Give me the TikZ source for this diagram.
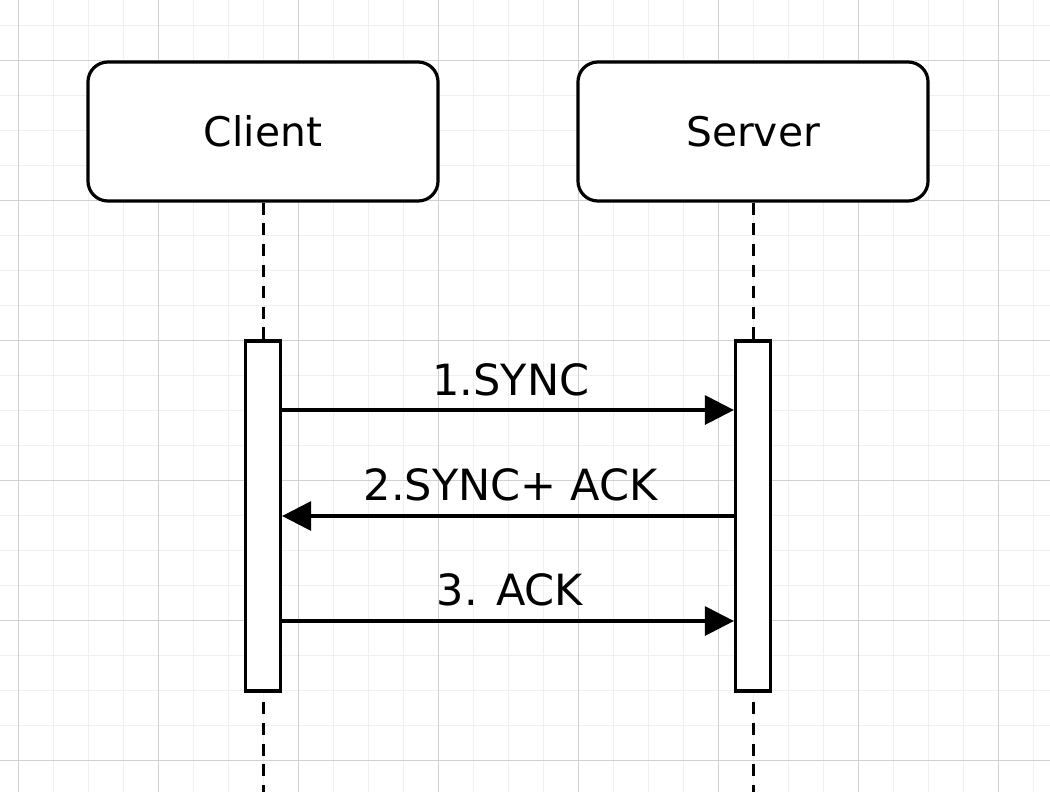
\documentclass[tikz,border=0pt]{standalone}
\usepackage{fontspec}
\setmainfont{DejaVu Sans}
\usetikzlibrary{positioning, arrows.meta}

\begin{document}
\begin{tikzpicture}[
    x=0.025cm, y=-0.025cm,
    every node/.style = {font=\fontsize{29}{35}\selectfont, inner sep=0pt},
    actor/.style  = {draw=black, line width=0.08cm, rectangle, rounded corners=0.5cm,
                     fill=white, minimum width=8.75cm, minimum height=3.475cm},
    active/.style = {draw=black, line width=0.08cm, rectangle, fill=white,
                     minimum width=0.875cm, minimum height=8.75cm},
    lifeline/.style = {line width=0.075cm, dash pattern=on 0.3cm off 0.22cm},
    msg/.style    = {line width=0.08cm, -{Triangle[length=0.725cm, width=0.725cm]}},
    msglabel/.style = {anchor=base, font=\fontsize{30.6}{36}\selectfont},
    minorgrid/.style = {draw=black!6, line width=0.025cm},
    majorgrid/.style = {draw=black!18, line width=0.025cm}
]

% canvas and grid
\useasboundingbox[fill=white] (0,0) rectangle (1050,792);
\foreach \gx in {18,53,...,1050} \draw[minorgrid] (\gx,0) -- (\gx,792);
\foreach \gy in {25,60,...,792} \draw[minorgrid] (0,\gy) -- (1050,\gy);
\foreach \gx in {18,158,...,1050} \draw[majorgrid] (\gx,0) -- (\gx,792);
\foreach \gy in {60,200,...,792} \draw[majorgrid] (0,\gy) -- (1050,\gy);

% participants
\node[actor] (client) at (263,131.5) {Client};
\node[actor] (server) at (753,131.5) {Server};

% lifelines
\coordinate (cend) at (263,792);
\coordinate (send) at (753,792);
\draw[lifeline] (client.south) -- (cend);
\draw[lifeline] (server.south) -- (send);

% activation bars
\node[active] (cact) at (263,516) {};
\node[active] (sact) at (753,516) {};

% message heights
\coordinate (y1) at (0,410);
\coordinate (y2) at (0,516);
\coordinate (y3) at (0,621);

% messages
\draw[msg] (cact.east |- y1) -- (sact.west |- y1);
\draw[msg] (sact.west |- y2) -- (cact.east |- y2);
\draw[msg] (cact.east |- y3) -- (sact.west |- y3);

% message labels
\node[msglabel] (m1) at (511,395) {1.SYNC};
\node[msglabel] (m2) at (510.5,500) {2.SYNC+ ACK};
\node[msglabel] (m3) at (510,605) {3. ACK};

\end{tikzpicture}
\end{document}
